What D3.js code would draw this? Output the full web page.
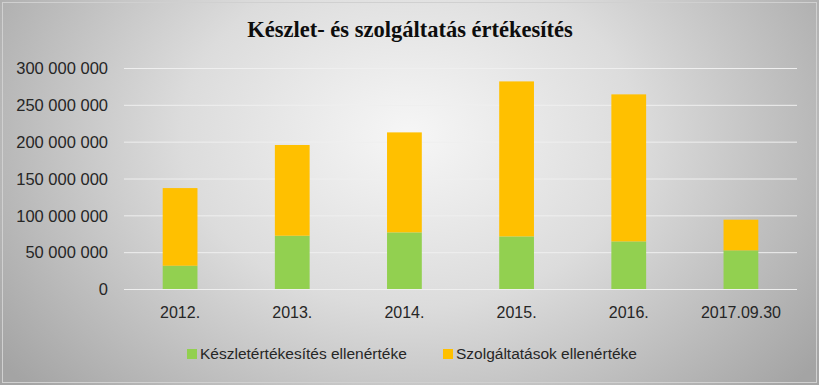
<!DOCTYPE html>
<html>
<head>
<meta charset="utf-8">
<script src="https://cdn.jsdelivr.net/npm/d3@7"></script>
<style>
  body { margin: 0; }
  text { font-family: "Liberation Sans", Arial, sans-serif; fill: #262626; }
</style>
</head>
<body>
<div id="chart"></div>
<script>
const categories = ["2012.", "2013.", "2014.", "2015.", "2016.", "2017.09.30"];
const keszlet = [31600000, 72300000, 76900000, 71400000, 64600000, 52400000];
const szolgaltatas = [105400000, 123200000, 135700000, 210400000, 199600000, 41700000];
const seriesNames = ["Készletértékesítés ellenértéke", "Szolgáltatások ellenértéke"];
const yTicks = [0, 50000000, 100000000, 150000000, 200000000, 250000000, 300000000];
const colors = ["#92D050", "#FFC000"];

const W = 819, H = 385;
const margin = {top: 68, right: 22, bottom: 96, left: 124};
const width = W - margin.left - margin.right;
const height = H - margin.top - margin.bottom;

const svg = d3.select("#chart").append("svg")
  .attr("width", W)
  .attr("height", H);

const defs = svg.append("defs");
const grad = defs.append("radialGradient")
  .attr("id", "bg")
  .attr("cx", "50%").attr("cy", "35%")
  .attr("r", "62%")
  .attr("gradientTransform", "translate(0.5,0.35) scale(1,1.6) translate(-0.5,-0.35)");
grad.append("stop").attr("offset", "0%").attr("stop-color", "#f6f6f6");
grad.append("stop").attr("offset", "45%").attr("stop-color", "#dcdcdc");
grad.append("stop").attr("offset", "100%").attr("stop-color", "#a4a4a4");

svg.append("rect")
  .attr("width", W).attr("height", H)
  .attr("fill", "url(#bg)");
svg.append("rect")
  .attr("x", 2.5).attr("y", 2.5)
  .attr("width", W - 5).attr("height", H - 5)
  .attr("fill", "none")
  .attr("stroke", "#d0d0d0")
  .attr("stroke-width", 1);

svg.append("text")
  .attr("x", 410).attr("y", 37)
  .attr("text-anchor", "middle")
  .style("font-family", "'Liberation Serif', 'DejaVu Serif', serif")
  .style("font-weight", "bold")
  .style("font-size", "22.5px")
  .style("fill", "#0d0d0d")
  .text("Készlet- és szolgáltatás értékesítés");

const g = svg.append("g")
  .attr("transform", "translate(" + margin.left + "," + margin.top + ")");

const x = d3.scaleBand().domain(categories).range([0, width]).paddingInner(0.69).paddingOuter(0.345);
const y = d3.scaleLinear().domain([0, 300000000]).range([height, 0]);

const fmt = v => d3.format(",")(v).replace(/,/g, " ");

// gridlines
g.append("g")
  .selectAll("line")
  .data(yTicks).enter()
  .append("line")
    .attr("x1", 0).attr("x2", width)
    .attr("y1", d => y(d) + 0.5).attr("y2", d => y(d) + 0.5)
    .attr("stroke", "#efefef")
    .attr("stroke-width", 1);

// y axis
const yAxis = g.append("g")
  .call(d3.axisLeft(y).tickValues(yTicks).tickFormat(fmt).tickSize(0).tickPadding(16));
yAxis.select(".domain").remove();
yAxis.selectAll("text").style("font-size", "16.5px").attr("dy", "0.35em");

// x axis
const xAxis = g.append("g")
  .attr("transform", "translate(0," + height + ")")
  .call(d3.axisBottom(x).tickSize(0).tickPadding(18));
xAxis.select(".domain").remove();
xAxis.selectAll("text").style("font-size", "16px");

// stacked bars
const rows = categories.map((c, i) => ({cat: c, a: keszlet[i], b: szolgaltatas[i]}));
const stack = d3.stack().keys(["a", "b"])(rows);

g.selectAll(".serie")
  .data(stack).enter()
  .append("g")
    .attr("class", "serie")
    .attr("fill", (d, i) => colors[i])
  .selectAll("rect")
  .data(d => d).enter()
  .append("rect")
    .attr("x", d => x(d.data.cat))
    .attr("width", x.bandwidth())
    .attr("y", d => y(d[1]))
    .attr("height", d => y(d[0]) - y(d[1]));

// legend
const legendX = [187, 443];
const legend = svg.append("g")
  .selectAll("g")
  .data(seriesNames).enter()
  .append("g")
    .attr("transform", (d, i) => "translate(" + legendX[i] + ",349)");
legend.append("rect")
  .attr("width", 10).attr("height", 10)
  .attr("fill", (d, i) => colors[i]);
legend.append("text")
  .attr("x", 13).attr("y", 10)
  .style("font-size", "15.5px")
  .text(d => d);
</script>
</body>
</html>
